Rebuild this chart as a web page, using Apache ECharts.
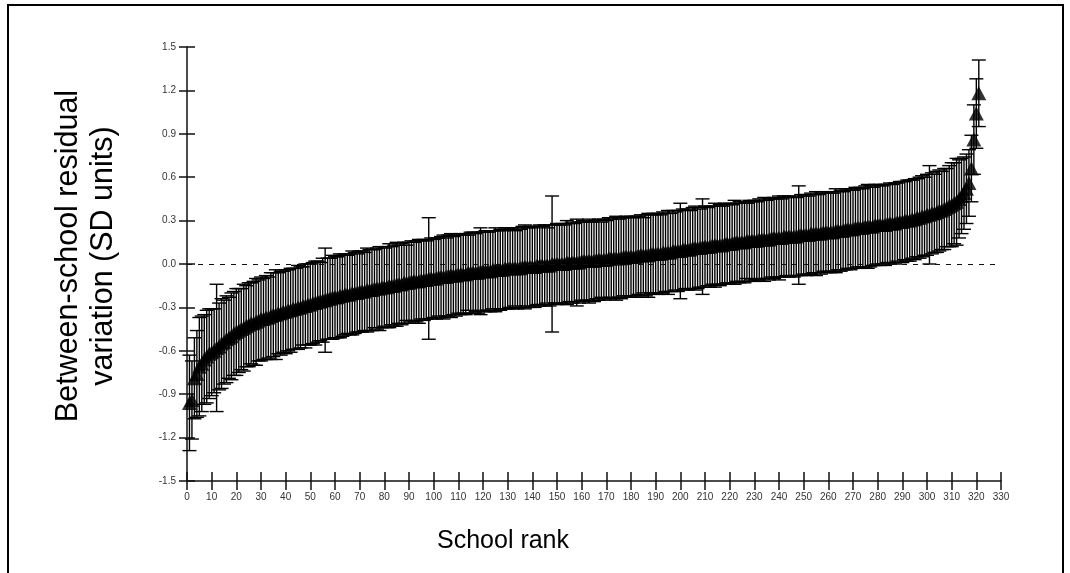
<!DOCTYPE html>
<html>
<head>
<meta charset="utf-8">
<script src="https://cdn.jsdelivr.net/npm/echarts@6/dist/echarts.min.js"></script>
<style>
  html, body { margin: 0; padding: 0; background: #fff; }
  #chart { width: 1070px; height: 573px; }
</style>
</head>
<body>
<div id="chart"></div>
<script>
// school residuals, sorted by rank
var residual = [
  -0.96, -0.94, -0.79, -0.76, -0.71, -0.69, -0.66, -0.64, -0.62, -0.61,
  -0.60, -0.58, -0.57, -0.55, -0.54, -0.52, -0.51, -0.50, -0.48, -0.47,
  -0.46, -0.45, -0.44, -0.43, -0.42, -0.41, -0.41, -0.40, -0.39, -0.38,
  -0.38, -0.37, -0.37, -0.36, -0.35, -0.35, -0.34, -0.34, -0.33, -0.33,
  -0.32, -0.32, -0.31, -0.31, -0.30, -0.30, -0.29, -0.29, -0.28, -0.28,
  -0.27, -0.27, -0.26, -0.26, -0.25, -0.25, -0.24, -0.24, -0.23, -0.23,
  -0.23, -0.22, -0.22, -0.21, -0.21, -0.21, -0.20, -0.20, -0.20, -0.19,
  -0.19, -0.19, -0.18, -0.18, -0.18, -0.17, -0.17, -0.17, -0.16, -0.16,
  -0.16, -0.15, -0.15, -0.15, -0.14, -0.14, -0.14, -0.13, -0.13, -0.13,
  -0.12, -0.12, -0.12, -0.12, -0.11, -0.11, -0.11, -0.10, -0.10, -0.10,
  -0.10, -0.09, -0.09, -0.09, -0.09, -0.08, -0.08, -0.08, -0.08, -0.07,
  -0.07, -0.07, -0.07, -0.06, -0.06, -0.06, -0.06, -0.06, -0.05, -0.05,
  -0.05, -0.05, -0.05, -0.04, -0.04, -0.04, -0.04, -0.04, -0.03, -0.03,
  -0.03, -0.03, -0.03, -0.03, -0.03, -0.02, -0.02, -0.02, -0.02, -0.02,
  -0.02, -0.01, -0.01, -0.01, -0.01, -0.01, -0.01, 0.00, 0.00, 0.00,
  0.00, 0.00, 0.00, 0.01, 0.01, 0.01, 0.01, 0.01, 0.01, 0.02,
  0.02, 0.02, 0.02, 0.02, 0.02, 0.03, 0.03, 0.03, 0.03, 0.03,
  0.04, 0.04, 0.04, 0.04, 0.04, 0.04, 0.05, 0.05, 0.05, 0.05,
  0.05, 0.05, 0.06, 0.06, 0.06, 0.06, 0.06, 0.07, 0.07, 0.07,
  0.07, 0.07, 0.08, 0.08, 0.08, 0.08, 0.09, 0.09, 0.09, 0.09,
  0.10, 0.10, 0.10, 0.10, 0.11, 0.11, 0.11, 0.11, 0.12, 0.12,
  0.12, 0.12, 0.13, 0.13, 0.13, 0.13, 0.13, 0.14, 0.14, 0.14,
  0.14, 0.15, 0.15, 0.15, 0.15, 0.15, 0.16, 0.16, 0.16, 0.16,
  0.16, 0.17, 0.17, 0.17, 0.17, 0.17, 0.18, 0.18, 0.18, 0.18,
  0.18, 0.19, 0.19, 0.19, 0.19, 0.19, 0.19, 0.20, 0.20, 0.20,
  0.20, 0.20, 0.21, 0.21, 0.21, 0.21, 0.21, 0.22, 0.22, 0.22,
  0.22, 0.22, 0.23, 0.23, 0.23, 0.23, 0.24, 0.24, 0.24, 0.24,
  0.25, 0.25, 0.25, 0.25, 0.26, 0.26, 0.26, 0.26, 0.27, 0.27,
  0.27, 0.27, 0.27, 0.28, 0.28, 0.28, 0.28, 0.29, 0.29, 0.29,
  0.30, 0.30, 0.30, 0.31, 0.31, 0.32, 0.32, 0.33, 0.33, 0.34,
  0.34, 0.35, 0.35, 0.36, 0.37, 0.37, 0.38, 0.39, 0.40, 0.41,
  0.42, 0.43, 0.45, 0.47, 0.49, 0.52, 0.56, 0.66, 0.86, 1.04,
  1.18
];
// half width of each interval
var halfWidth = [
  0.33, 0.27, 0.28, 0.30, 0.34, 0.33, 0.31, 0.32, 0.31, 0.30,
  0.29, 0.44, 0.30, 0.31, 0.29, 0.30, 0.28, 0.30, 0.29, 0.30,
  0.29, 0.28, 0.30, 0.28, 0.29, 0.28, 0.29, 0.30, 0.28, 0.29,
  0.28, 0.29, 0.28, 0.30, 0.29, 0.31, 0.28, 0.29, 0.28, 0.29,
  0.28, 0.29, 0.28, 0.28, 0.29, 0.28, 0.27, 0.29, 0.28, 0.28,
  0.28, 0.29, 0.28, 0.27, 0.29, 0.36, 0.28, 0.28, 0.29, 0.28,
  0.28, 0.29, 0.28, 0.28, 0.27, 0.28, 0.29, 0.28, 0.27, 0.28,
  0.28, 0.27, 0.29, 0.28, 0.28, 0.27, 0.28, 0.29, 0.28, 0.27,
  0.28, 0.29, 0.27, 0.28, 0.29, 0.27, 0.28, 0.28, 0.26, 0.28,
  0.28, 0.27, 0.28, 0.29, 0.27, 0.28, 0.27, 0.42, 0.28, 0.27,
  0.28, 0.27, 0.28, 0.29, 0.27, 0.28, 0.29, 0.27, 0.28, 0.27,
  0.28, 0.27, 0.28, 0.26, 0.28, 0.28, 0.27, 0.28, 0.30, 0.27,
  0.28, 0.27, 0.28, 0.27, 0.29, 0.27, 0.28, 0.27, 0.28, 0.28,
  0.27, 0.28, 0.26, 0.28, 0.27, 0.28, 0.29, 0.27, 0.28, 0.27,
  0.28, 0.27, 0.28, 0.27, 0.28, 0.26, 0.28, 0.47, 0.27, 0.28,
  0.27, 0.28, 0.27, 0.29, 0.27, 0.28, 0.27, 0.30, 0.28, 0.27,
  0.28, 0.27, 0.29, 0.27, 0.28, 0.27, 0.28, 0.26, 0.28, 0.27,
  0.28, 0.27, 0.28, 0.29, 0.27, 0.28, 0.27, 0.28, 0.27, 0.28,
  0.27, 0.28, 0.27, 0.28, 0.26, 0.28, 0.29, 0.27, 0.28, 0.27,
  0.28, 0.27, 0.28, 0.27, 0.29, 0.27, 0.28, 0.27, 0.28, 0.33,
  0.28, 0.27, 0.28, 0.27, 0.28, 0.29, 0.28, 0.27, 0.33, 0.28,
  0.27, 0.28, 0.27, 0.29, 0.27, 0.28, 0.27, 0.28, 0.27, 0.28,
  0.27, 0.29, 0.27, 0.28, 0.27, 0.28, 0.26, 0.28, 0.27, 0.28,
  0.27, 0.28, 0.27, 0.29, 0.27, 0.28, 0.27, 0.28, 0.27, 0.29,
  0.27, 0.28, 0.27, 0.28, 0.27, 0.28, 0.27, 0.34, 0.28, 0.27,
  0.28, 0.27, 0.28, 0.27, 0.29, 0.27, 0.28, 0.27, 0.28, 0.27,
  0.28, 0.27, 0.29, 0.27, 0.28, 0.27, 0.28, 0.27, 0.28, 0.27,
  0.28, 0.27, 0.28, 0.27, 0.28, 0.29, 0.28, 0.27, 0.28, 0.27,
  0.28, 0.27, 0.28, 0.27, 0.28, 0.27, 0.28, 0.27, 0.28, 0.28,
  0.27, 0.28, 0.28, 0.27, 0.28, 0.27, 0.28, 0.28, 0.27, 0.28,
  0.34, 0.28, 0.27, 0.28, 0.28, 0.27, 0.28, 0.27, 0.28, 0.29,
  0.28, 0.30, 0.27, 0.26, 0.25, 0.24, 0.23, 0.23, 0.24, 0.24,
  0.23
];
var rank = residual.map(function (v, i) { return i + 1; });

var xMin = 0, xMax = 330, xStep = 10;
var yMin = -1.5, yMax = 1.5, yStep = 0.3;

var FONT = '"Liberation Sans", Arial, sans-serif';

var points = rank.map(function (r, i) { return [r, residual[i]]; });
var bars = rank.map(function (r, i) {
    return [r, residual[i] - halfWidth[i], residual[i] + halfWidth[i]];
});

var chartDom = document.getElementById('chart');
var myChart = echarts.init(chartDom);
var option;

function tickFmt(v) {
    if (Math.abs(v) < 1e-9) return '0.0';
    return v.toFixed(1);
}

var tickStyle = { color: '#111', width: 1.5 };

option = {
    animation: false,
    backgroundColor: '#fff',
    grid: { left: 187, right: 69, top: 47, bottom: 92 },
    xAxis: [
        {
            type: 'value', min: xMin, max: xMax, interval: xStep,
            axisLine: { show: true, onZero: false, lineStyle: { color: '#111', width: 1.5 } },
            axisTick: { show: true, length: 9, lineStyle: tickStyle },
            axisLabel: { fontSize: 10, color: '#333', margin: 11, fontFamily: FONT },
            splitLine: { show: false }
        },
        {
            type: 'value', min: xMin, max: xMax, interval: xStep, position: 'bottom',
            axisLine: { show: false, onZero: false },
            axisTick: { show: true, inside: true, length: 9, lineStyle: tickStyle },
            axisLabel: { show: false },
            splitLine: { show: false }
        }
    ],
    yAxis: [
        {
            type: 'value', min: yMin, max: yMax, interval: yStep,
            axisLine: { show: true, onZero: false, lineStyle: { color: '#111', width: 1.5 } },
            axisTick: { show: true, length: 8, lineStyle: tickStyle },
            axisLabel: { fontSize: 10, color: '#333', margin: 11, fontFamily: FONT, formatter: tickFmt },
            splitLine: { show: false }
        },
        {
            type: 'value', min: yMin, max: yMax, interval: yStep, position: 'left',
            axisLine: { show: false, onZero: false },
            axisTick: { show: true, inside: true, length: 8, lineStyle: tickStyle },
            axisLabel: { show: false },
            splitLine: { show: false }
        }
    ],
    graphic: [
        {
            type: 'rect', silent: true,
            shape: { x: 8, y: 5, width: 1055, height: 620 },
            style: { fill: 'none', stroke: '#000', lineWidth: 2 }
        },
        {
            type: 'text', x: 86, y: 256, rotation: Math.PI / 2,
            style: {
                text: 'Between-school residual\nvariation (SD units)',
                fontSize: 30.5, lineHeight: 35, fontFamily: FONT, fill: '#000',
                align: 'center', verticalAlign: 'middle'
            }
        },
        {
            type: 'text', x: 503, y: 541,
            style: {
                text: 'School rank',
                fontSize: 25, fontFamily: FONT, fill: '#000',
                align: 'center', verticalAlign: 'middle'
            }
        }
    ],
    series: [
        {
            name: 'zero',
            type: 'line',
            data: [],
            z: 1,
            markLine: {
                silent: true,
                symbol: ['none', 'none'],
                label: { show: false },
                lineStyle: { color: '#111', width: 1, type: [5, 6] },
                data: [{ yAxis: 0 }]
            }
        },
        {
            name: 'interval',
            type: 'custom',
            z: 2,
            data: bars,
            renderItem: function (params, api) {
                var x = api.value(0);
                var lo = api.coord([x, api.value(1)]);
                var hi = api.coord([x, api.value(2)]);
                var w = 7;
                var st = { stroke: '#000', lineWidth: 1.4 };
                return {
                    type: 'group',
                    children: [
                        { type: 'line', shape: { x1: hi[0], y1: hi[1], x2: lo[0], y2: lo[1] }, style: st },
                        { type: 'line', shape: { x1: hi[0] - w, y1: hi[1], x2: hi[0] + w, y2: hi[1] }, style: st },
                        { type: 'line', shape: { x1: lo[0] - w, y1: lo[1], x2: lo[0] + w, y2: lo[1] }, style: st }
                    ]
                };
            }
        },
        {
            name: 'residual',
            type: 'scatter',
            z: 3,
            symbol: 'triangle',
            symbolSize: [15, 14],
            itemStyle: { color: '#000' },
            data: points
        }
    ]
};

option && myChart.setOption(option);
</script>
</body>
</html>
